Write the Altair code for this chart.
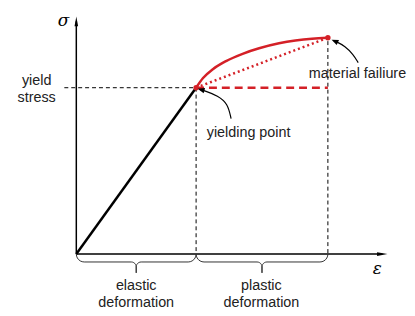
import math
import altair as alt
import pandas as pd

# ---------------- data (strain ε, stress σ; normalised so yield point = (1, 1)) -------------
yield_strain, yield_stress = 1.0, 1.0
fail_strain, fail_stress = 2.1, 1.3

elastic_strain = [0.0, 1.0]
elastic_stress = [0.0, 1.0]

plastic_strain = [1.0, 1.058, 1.140, 1.250, 1.388, 1.526, 1.692, 1.829, 1.967, 2.1]
plastic_stress = [1.0, 1.058, 1.111, 1.160, 1.204, 1.237, 1.267, 1.284, 1.295, 1.30]

axis_end_strain = 2.554
axis_end_stress = 1.399
yield_line_start = -0.10

label_text = ["yield", "stress", "yielding point", "material failiure",
              "elastic", "deformation", "plastic", "deformation"]
label_strain = [-0.331, -0.331, 1.438, 2.347, 0.50, 0.50, 1.545, 1.545]
label_stress = [1.042, 0.940, 0.726, 1.083, -0.190, -0.292, -0.190, -0.292]

symbol_text = ["σ", "ε"]
symbol_strain = [-0.107, 2.512]
symbol_stress = [1.399, -0.089]

# annotation arrows (callout paths)
yarrow_strain = [1.292, 1.264, 1.182, 1.072, 1.030]
yarrow_stress = [0.814, 0.905, 0.952, 0.982, 0.990]
farrow_strain = [2.353, 2.311, 2.242, 2.174, 2.150]
farrow_stress = [1.151, 1.201, 1.250, 1.276, 1.281]
arrowhead_strain = [1.041, 2.157]
arrowhead_stress = [0.988, 1.280]
arrowhead_angle = [195, 205]

RED = "#d42027"
FONT = "Liberation Sans"

xs = alt.Scale(domain=[-0.5702, 2.7273], nice=False, zero=False)
ys = alt.Scale(domain=[-0.3155, 1.4702], nice=False, zero=False)


def enc(**kw):
    return dict(x=alt.X("e:Q", scale=xs, axis=None),
                y=alt.Y("s:Q", scale=ys, axis=None), **kw)


def df(e, s):
    return pd.DataFrame({"e": e, "s": s, "o": list(range(len(e)))})


# brace geometry built from the region boundaries
def brace(e0, e1, gid):
    rx, ry = 8 / 121, 8 / 168
    mx, my = 5 / 121, 5 / 168
    depth = 11 / 168
    h = -ry
    m = (e0 + e1) / 2
    pts = []
    for k in range(7):
        t = math.pi / 2 * k / 6
        pts.append((e0 + rx - rx * math.cos(t), -ry * math.sin(t)))
    for k in range(7):
        t = math.pi / 2 * k / 6
        pts.append((m - mx + mx * math.sin(t), h - my * (1 - math.cos(t))))
    pts.append((m, h - depth))
    right = [(2 * m - x, y) for (x, y) in reversed(pts)]
    pts = pts + right
    return pd.DataFrame({"e": [p[0] for p in pts], "s": [p[1] for p in pts],
                         "o": list(range(len(pts))), "g": gid})


braces = pd.concat([brace(0.0, yield_strain, "a"), brace(yield_strain, fail_strain, "b")])

layers = []

# axes
layers.append(alt.Chart(df([0, 0], [0, axis_end_stress])).mark_line(color="black", strokeWidth=1.5)
              .encode(**enc(order="o:Q")))
layers.append(alt.Chart(df([0, axis_end_strain], [0, 0])).mark_line(color="black", strokeWidth=1.5)
              .encode(**enc(order="o:Q")))
layers.append(alt.Chart(df([0], [axis_end_stress])).mark_point(
    shape="M0,-1L0.36,1L-0.36,1Z", size=100, filled=True, color="black", opacity=1, strokeWidth=0)
    .encode(**enc()))
layers.append(alt.Chart(df([axis_end_strain], [0])).mark_point(
    shape="M1,0L-1,-0.36L-1,0.36Z", size=110, filled=True, color="black", opacity=1, strokeWidth=0)
    .encode(**enc()))

# dashed guides
guide = pd.DataFrame({
    "e": [yield_line_start, yield_strain, yield_strain, yield_strain, fail_strain, fail_strain],
    "s": [yield_stress, yield_stress, yield_stress, 0, fail_stress - 0.02, 0],
    "g": ["h", "h", "v1", "v1", "v2", "v2"], "o": [0, 1, 0, 1, 0, 1]})
layers.append(alt.Chart(guide).mark_line(color="black", strokeWidth=1, strokeDash=[4, 3])
              .encode(**enc(detail="g:N", order="o:Q")))

# braces
layers.append(alt.Chart(braces).mark_line(color="#333333", strokeWidth=1)
              .encode(**enc(detail="g:N", order="o:Q")))

# red dashed (perfectly plastic) and dotted (linear hardening)
layers.append(alt.Chart(df([yield_strain, fail_strain], [yield_stress, yield_stress]))
              .mark_line(color=RED, strokeWidth=2.5, strokeDash=[8, 5]).encode(**enc(order="o:Q")))
layers.append(alt.Chart(df([yield_strain, fail_strain], [yield_stress, fail_stress]))
              .mark_line(color=RED, strokeWidth=2.5, strokeDash=[2, 3]).encode(**enc(order="o:Q")))

# elastic line
layers.append(alt.Chart(df(elastic_strain, elastic_stress))
              .mark_line(color="black", strokeWidth=2.5).encode(**enc(order="o:Q")))
# plastic curve
layers.append(alt.Chart(df(plastic_strain, plastic_stress))
              .mark_line(color=RED, strokeWidth=2.5, interpolate="monotone").encode(**enc(order="o:Q")))
# key points
layers.append(alt.Chart(df([yield_strain, fail_strain], [yield_stress, fail_stress]))
              .mark_circle(color=RED, size=30, opacity=1).encode(**enc()))

# callout arrows
layers.append(alt.Chart(df(yarrow_strain, yarrow_stress))
              .mark_line(color="black", strokeWidth=1.2, interpolate="basis").encode(**enc(order="o:Q")))
layers.append(alt.Chart(df(farrow_strain, farrow_stress))
              .mark_line(color="black", strokeWidth=1.2, interpolate="basis").encode(**enc(order="o:Q")))
ah = pd.DataFrame({"e": arrowhead_strain, "s": arrowhead_stress, "a": arrowhead_angle})
layers.append(alt.Chart(ah).mark_point(shape="M1,0L-1,-0.8L-1,0.8Z", size=49, filled=True,
                                       color="black", opacity=1, strokeWidth=0)
              .encode(**enc(angle=alt.Angle("a:Q", scale=None))))

# labels
lab = pd.DataFrame({"e": label_strain, "s": label_stress, "t": label_text})
layers.append(alt.Chart(lab).mark_text(font=FONT, fontSize=14.5, color="#222222", baseline="middle")
              .encode(**enc(text="t:N")))
sym = pd.DataFrame({"e": symbol_strain, "s": symbol_stress, "t": symbol_text})
layers.append(alt.Chart(sym).mark_text(font="DejaVu Serif", fontStyle="italic", fontSize=17,
                                       color="black", baseline="middle")
              .encode(**enc(text="t:N")))

chart = alt.layer(*layers).properties(width=399, height=300, padding=0).configure_view(stroke=None)
chart.save("out.html", embed_options={"renderer": "svg", "actions": False})
